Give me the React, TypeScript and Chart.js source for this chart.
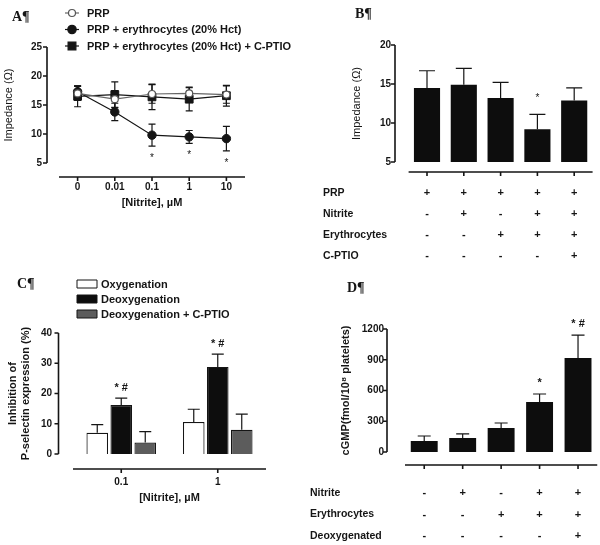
import React, { useEffect, useRef } from 'react';
import { Chart, registerables } from 'chart.js';

Chart.register(...registerables);

const SANS = '"Liberation Sans", Arial, Helvetica, sans-serif';
const SERIF = '"Liberation Serif", "Times New Roman", serif';
const INK = '#151515';
const BAR = '#0d0d0d';
const GREY = '#5c5c5c';

// ---------- Panel A : impedance vs nitrite ----------
const aNitrite = ['0', '0.01', '0.1', '1', '10'];
const aPRP = [17.0, 16.0, 16.9, 17.0, 16.8];
const aPRPErr = [1.2, 1.5, 1.6, 1.1, 1.5];
const aEry = [17.3, 13.8, 9.8, 9.5, 9.2];
const aEryErr = [1.0, 1.5, 1.9, 1.1, 2.1];
const aPTIO = [16.5, 16.8, 16.4, 16.0, 16.6];
const aPTIOErr = [1.8, 2.2, 2.2, 2.0, 1.8];
const aSig = ['', '', '*', '*', '*'];

// ---------- Panel B : impedance by condition ----------
const bGroups = ['g1', 'g2', 'g3', 'g4', 'g5'];
const bValues = [14.5, 14.9, 13.2, 9.2, 12.9];
const bErr = [2.2, 2.1, 2.0, 1.9, 1.6];
const bSig = ['', '', '', '*', ''];
const bPRP = ['+', '+', '+', '+', '+'];
const bNitrite = ['-', '+', '-', '+', '+'];
const bEry = ['-', '-', '+', '+', '+'];
const bCPTIO = ['-', '-', '-', '-', '+'];

// ---------- Panel C : P-selectin inhibition ----------
const cNitrite = ['0.1', '1'];
const cOxy = [7.0, 10.6];
const cOxyErr = [2.7, 4.2];
const cDeoxy = [16.2, 28.8];
const cDeoxyErr = [2.3, 4.2];
const cPTIO = [3.8, 8.0];
const cPTIOErr = [3.6, 5.2];
const cSig = ['* #', '* #'];

// ---------- Panel D : cGMP ----------
const dGroups = ['g1', 'g2', 'g3', 'g4', 'g5'];
const dValues = [107, 137, 234, 488, 917];
const dErr = [49, 39, 49, 78, 224];
const dSig = ['', '', '', '*', '* #'];
const dNitrite = ['-', '+', '-', '+', '+'];
const dEry = ['-', '-', '+', '+', '+'];
const dDeoxy = ['-', '-', '-', '-', '+'];

type Cfg = {
  yOff: number;
  xOff: number;
  errMode: 'both' | 'up';
  capW: number;
  sigGap: number;
  sigFont: string;
  letter: { text: string; x: number; y: number };
  legend?: { kind: 'line' | 'box'; markerX: number; textX: number; y0: number; dy: number };
  table?: { nameX: number; y0: number; dy: number; rows: { name: string; marks: string[] }[] };
};

function gpPlugin(cfg: Cfg) {
  return {
    id: 'gp',
    beforeDatasetsDraw(chart: any) {
      const ctx = chart.ctx;
      const y = chart.scales.y;
      ctx.save();
      ctx.strokeStyle = INK;
      ctx.lineWidth = 1.2;
      chart.data.datasets.forEach((ds: any, di: number) => {
        const errs: number[] | undefined = ds.errors;
        if (!errs) return;
        const meta = chart.getDatasetMeta(di);
        meta.data.forEach((el: any, i: number) => {
          const v = ds.data[i];
          const e = errs[i];
          const px = el.x;
          const yTop = y.getPixelForValue(v + e);
          const yBot = cfg.errMode === 'both' ? y.getPixelForValue(v - e) : y.getPixelForValue(v);
          const h = cfg.capW / 2;
          ctx.beginPath();
          ctx.moveTo(px, yTop);
          ctx.lineTo(px, yBot);
          ctx.moveTo(px - h, yTop);
          ctx.lineTo(px + h, yTop);
          if (cfg.errMode === 'both') {
            ctx.moveTo(px - h, yBot);
            ctx.lineTo(px + h, yBot);
          }
          ctx.stroke();
        });
      });
      ctx.restore();
    },
    afterDraw(chart: any) {
      const ctx = chart.ctx;
      const x = chart.scales.x;
      const y = chart.scales.y;
      const { left, right, bottom } = chart.chartArea;
      ctx.save();
      // detached axes
      ctx.strokeStyle = INK;
      ctx.lineWidth = 1.6;
      ctx.beginPath();
      const ax = left - cfg.yOff;
      ctx.moveTo(ax, y.getPixelForValue(y.max));
      ctx.lineTo(ax, y.getPixelForValue(y.min));
      y.ticks.forEach((t: any) => {
        const p = y.getPixelForValue(t.value);
        ctx.moveTo(ax - 4, p);
        ctx.lineTo(ax, p);
      });
      const ay = bottom + cfg.xOff;
      ctx.moveTo(left, ay);
      ctx.lineTo(right, ay);
      x.ticks.forEach((_t: any, i: number) => {
        const p = x.getPixelForValue(i);
        ctx.moveTo(p, ay);
        ctx.lineTo(p, ay + 4);
      });
      ctx.stroke();

      // significance marks
      ctx.fillStyle = INK;
      ctx.font = cfg.sigFont;
      ctx.textAlign = 'center';
      ctx.textBaseline = 'alphabetic';
      chart.data.datasets.forEach((ds: any, di: number) => {
        const sig: string[] | undefined = ds.sig;
        if (!sig) return;
        const meta = chart.getDatasetMeta(di);
        meta.data.forEach((el: any, i: number) => {
          if (!sig[i]) return;
          const v = ds.data[i];
          const e = ds.errors ? ds.errors[i] : 0;
          const py =
            cfg.errMode === 'both'
              ? y.getPixelForValue(v - e) + cfg.sigGap
              : y.getPixelForValue(v + e) - cfg.sigGap;
          ctx.fillText(sig[i], el.x, py);
        });
      });

      // legend
      if (cfg.legend) {
        const L = cfg.legend;
        ctx.font = `bold 11px ${SANS}`;
        ctx.textAlign = 'left';
        ctx.textBaseline = 'middle';
        chart.data.datasets.forEach((ds: any, i: number) => {
          const cy = L.y0 + i * L.dy;
          if (L.kind === 'line') {
            ctx.strokeStyle = ds.borderColor;
            ctx.lineWidth = 1.2;
            ctx.beginPath();
            ctx.moveTo(L.markerX - 7, cy);
            ctx.lineTo(L.markerX + 7, cy);
            ctx.stroke();
            ctx.fillStyle = ds.pointBackgroundColor;
            ctx.strokeStyle = ds.pointBorderColor;
            ctx.lineWidth = 1.2;
            ctx.beginPath();
            if (ds.pointStyle === 'rect') {
              const s = ds.pointRadius * Math.SQRT1_2;
              ctx.rect(L.markerX - s, cy - s, 2 * s, 2 * s);
            } else {
              ctx.arc(L.markerX, cy, ds.pointRadius, 0, Math.PI * 2);
            }
            ctx.fill();
            ctx.stroke();
          } else {
            ctx.fillStyle = ds.backgroundColor;
            ctx.strokeStyle = INK;
            ctx.lineWidth = 1;
            ctx.beginPath();
            ctx.rect(L.markerX, cy - 4, 20, 8);
            ctx.fill();
            ctx.stroke();
          }
          ctx.fillStyle = INK;
          ctx.fillText(ds.label, L.textX, cy + 0.5);
        });
      }

      // condition table
      if (cfg.table) {
        const T = cfg.table;
        ctx.textBaseline = 'middle';
        T.rows.forEach((row, r) => {
          const cy = T.y0 + r * T.dy;
          ctx.fillStyle = INK;
          ctx.font = `bold 10.5px ${SANS}`;
          ctx.textAlign = 'left';
          ctx.fillText(row.name, T.nameX, cy);
          ctx.font = `bold 11px ${SANS}`;
          ctx.textAlign = 'center';
          row.marks.forEach((m, i) => ctx.fillText(m, x.getPixelForValue(i), cy));
        });
      }

      // panel letter
      ctx.fillStyle = INK;
      ctx.font = `bold 14px ${SERIF}`;
      ctx.textAlign = 'left';
      ctx.textBaseline = 'middle';
      ctx.fillText(cfg.letter.text, cfg.letter.x, cfg.letter.y);
      ctx.restore();
    },
  };
}

const tickFont = { family: SANS, size: 10, weight: 'bold' as const };

function yAxis(min: number, max: number, step: number, pad: number, width: number, title: string | string[], bold: boolean, titleTop: number) {
  return {
    min,
    max,
    grid: { display: false, drawTicks: false },
    border: { display: false },
    ticks: { stepSize: step, padding: pad, font: tickFont, color: INK, callback: (v: any) => String(v) },
    title: {
      display: true,
      text: title,
      color: INK,
      font: { family: SANS, size: 11, weight: bold ? ('bold' as const) : ('normal' as const) },
      padding: { top: titleTop, bottom: 0 },
    },
    afterFit: (s: any) => {
      s.width = width;
    },
  };
}

function xAxis(height: number, showTicks: boolean, pad: number, title?: string) {
  return {
    type: 'category' as const,
    offset: true,
    grid: { display: false, drawTicks: false },
    border: { display: false },
    ticks: { display: showTicks, padding: pad, font: tickFont, color: INK, maxRotation: 0, autoSkip: false },
    title: title
      ? { display: true, text: title, color: INK, font: { family: SANS, size: 11, weight: 'bold' as const }, padding: 0 }
      : { display: false },
    afterFit: (s: any) => {
      s.height = height;
    },
  };
}

const base = {
  animation: false as const,
  responsive: false,
  events: [] as any[],
};

function buildA(): any {
  return {
    type: 'line',
    data: {
      labels: aNitrite,
      datasets: [
        {
          label: 'PRP',
          data: aPRP,
          errors: aPRPErr,
          borderColor: '#666',
          borderWidth: 1.2,
          pointStyle: 'circle',
          pointRadius: 3.5,
          pointBackgroundColor: '#ffffff',
          pointBorderColor: '#555',
          pointBorderWidth: 1.2,
        },
        {
          label: 'PRP + erythrocytes (20% Hct)',
          data: aEry,
          errors: aEryErr,
          sig: aSig,
          borderColor: INK,
          borderWidth: 1.2,
          pointStyle: 'circle',
          pointRadius: 4.2,
          pointBackgroundColor: INK,
          pointBorderColor: INK,
          pointBorderWidth: 1,
        },
        {
          label: 'PRP + erythrocytes (20% Hct) + C-PTIO',
          data: aPTIO,
          errors: aPTIOErr,
          borderColor: INK,
          borderWidth: 1.2,
          pointStyle: 'rect',
          pointRadius: 5.5,
          pointBackgroundColor: INK,
          pointBorderColor: INK,
          pointBorderWidth: 1,
        },
      ],
    },
    options: {
      ...base,
      layout: { padding: { left: 0, top: 47, right: 55, bottom: 20.4 } },
      plugins: { legend: { display: false }, tooltip: { enabled: false } },
      scales: {
        x: xAxis(46.6, true, 18, '[Nitrite], µM'),
        y: yAxis(5, 25, 5, 17, 59, 'Impedance (Ω)', false, 2),
      },
    },
    plugins: [
      gpPlugin({
        yOff: 12,
        xOff: 14,
        errMode: 'both',
        capW: 7,
        sigGap: 15,
        sigFont: `10px ${SANS}`,
        letter: { text: 'A¶', x: 12, y: 17 },
        legend: { kind: 'line', markerX: 72, textX: 87, y0: 13, dy: 16.5 },
      }),
    ],
  };
}

function buildB(): any {
  return {
    type: 'bar',
    data: {
      labels: bGroups,
      datasets: [
        {
          label: 'Impedance',
          data: bValues,
          errors: bErr,
          sig: bSig,
          backgroundColor: BAR,
          borderWidth: 0,
          barPercentage: 0.71,
          categoryPercentage: 1,
        },
      ],
    },
    options: {
      ...base,
      layout: { padding: { left: 48, top: 45, right: 7.4, bottom: 98 } },
      plugins: { legend: { display: false }, tooltip: { enabled: false } },
      scales: {
        x: xAxis(10, false, 0),
        y: yAxis(5, 20, 5, 17.6, 60.6, 'Impedance (Ω)', false, 2.4),
      },
    },
    plugins: [
      gpPlugin({
        yOff: 13.6,
        xOff: 10,
        errMode: 'up',
        capW: 16,
        sigGap: 13.5,
        sigFont: `10px ${SANS}`,
        letter: { text: 'B¶', x: 55, y: 14 },
        table: {
          nameX: 23,
          y0: 193,
          dy: 21,
          rows: [
            { name: 'PRP', marks: bPRP },
            { name: 'Nitrite', marks: bNitrite },
            { name: 'Erythrocytes', marks: bEry },
            { name: 'C-PTIO', marks: bCPTIO },
          ],
        },
      }),
    ],
  };
}

function buildC(): any {
  const common = { barPercentage: 0.9, categoryPercentage: 0.746, borderColor: INK, borderWidth: 1.2 };
  return {
    type: 'bar',
    data: {
      labels: cNitrite,
      datasets: [
        { label: 'Oxygenation', data: cOxy, errors: cOxyErr, backgroundColor: '#ffffff', ...common },
        { label: 'Deoxygenation', data: cDeoxy, errors: cDeoxyErr, sig: cSig, backgroundColor: BAR, ...common },
        { label: 'Deoxygenation + C-PTIO', data: cPTIO, errors: cPTIOErr, backgroundColor: GREY, ...common },
      ],
    },
    options: {
      ...base,
      layout: { padding: { left: 0, top: 63, right: 34, bottom: 5.4 } },
      plugins: { legend: { display: false }, tooltip: { enabled: false } },
      scales: {
        x: xAxis(50.6, true, 22, '[Nitrite], µM'),
        y: yAxis(0, 40, 10, 21, 73, ['Inhibition of', 'P-selectin expression (%)'], true, 6.4),
      },
    },
    plugins: [
      gpPlugin({
        yOff: 14.5,
        xOff: 15,
        errMode: 'up',
        capW: 12,
        sigGap: 7,
        sigFont: `bold 11px ${SANS}`,
        letter: { text: 'C¶', x: 17, y: 14 },
        legend: { kind: 'box', markerX: 77, textX: 101, y0: 14, dy: 15 },
      }),
    ],
  };
}

function buildD(): any {
  return {
    type: 'bar',
    data: {
      labels: dGroups,
      datasets: [
        {
          label: 'cGMP',
          data: dValues,
          errors: dErr,
          sig: dSig,
          backgroundColor: BAR,
          borderWidth: 0,
          barPercentage: 0.7,
          categoryPercentage: 1,
        },
      ],
    },
    options: {
      ...base,
      layout: { padding: { left: 36, top: 59, right: 2.75, bottom: 83 } },
      plugins: { legend: { display: false }, tooltip: { enabled: false } },
      scales: {
        x: xAxis(10, false, 0),
        y: yAxis(0, 1200, 300, 21, 69, 'cGMP(fmol/10⁸ platelets)', true, 3.4),
      },
    },
    plugins: [
      gpPlugin({
        yOff: 18,
        xOff: 13,
        errMode: 'up',
        capW: 13,
        sigGap: 8,
        sigFont: `bold 11px ${SANS}`,
        letter: { text: 'D¶', x: 47, y: 18 },
        table: {
          nameX: 10,
          y0: 223,
          dy: 21.5,
          rows: [
            { name: 'Nitrite', marks: dNitrite },
            { name: 'Erythrocytes', marks: dEry },
            { name: 'Deoxygenated', marks: dDeoxy },
          ],
        },
      }),
    ],
  };
}

function Panel(props: { left: number; top: number; width: number; height: number; build: () => any }) {
  const ref = useRef<HTMLCanvasElement>(null);
  useEffect(() => {
    const chart = new Chart(ref.current as HTMLCanvasElement, props.build());
    return () => chart.destroy();
  }, []);
  const { left, top, width, height } = props;
  return (
    <canvas
      ref={ref}
      width={width}
      height={height}
      style={{ position: 'absolute', left, top, width, height, display: 'block' }}
    />
  );
}

export default function App() {
  return (
    <div
      style={{
        position: 'absolute',
        left: 0,
        top: 0,
        width: 600,
        height: 545,
        background: '#ffffff',
        overflow: 'hidden',
      }}
    >
      <Panel left={0} top={0} width={300} height={230} build={buildA} />
      <Panel left={300} top={0} width={300} height={270} build={buildB} />
      <Panel left={0} top={270} width={300} height={240} build={buildC} />
      <Panel left={300} top={270} width={300} height={275} build={buildD} />
    </div>
  );
}
